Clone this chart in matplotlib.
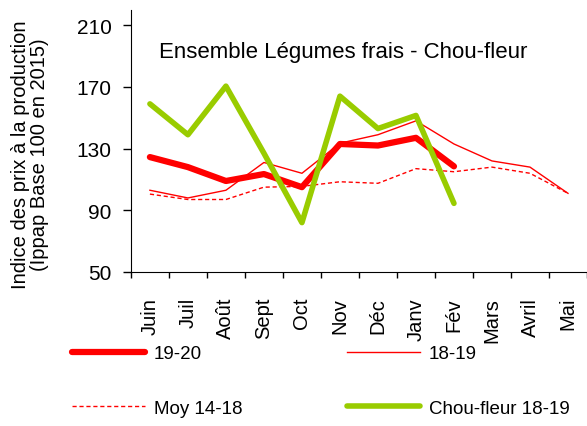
import matplotlib
matplotlib.use('Agg')
import matplotlib.pyplot as plt
import numpy as np

plt.rcParams['font.family'] = ['Liberation Sans', 'DejaVu Sans']

# ---- données ----
mois = ['Juin', 'Juil', 'Août', 'Sept', 'Oct', 'Nov', 'Déc', 'Janv', 'Fév', 'Mars', 'Avril', 'Mai']
s1920 = [124.5, 118, 109, 113.5, 105, 133, 132, 137, 118.5]
s1819 = [103, 98, 103, 121, 114, 133.5, 139, 148, 133, 122, 118, 101]
moy1418 = [100.5, 97, 97, 105, 105.5, 108.5, 107.5, 117, 115, 118, 114, 101]
chou1819 = [159, 139, 170.5, 127, 82, 164, 143, 151.5, 94.5]

rouge = '#ff0000'
vert = '#99cc00'

fig = plt.figure(figsize=(5.87, 4.27), dpi=100)
ax = fig.add_axes([0.223, 0.3607, 0.777, 0.614])

x = np.arange(len(mois))
l1, = ax.plot(x[:len(s1920)], s1920, color=rouge, lw=4.5, solid_capstyle='round', label='19-20')
l2, = ax.plot(x, s1819, color=rouge, lw=1.0, label='18-19')
l3, = ax.plot(x, moy1418, color=rouge, lw=1.0, ls=(0, (3, 2)), label='Moy 14-18')
l4, = ax.plot(x[:len(chou1819)], chou1819, color=vert, lw=4.0, solid_capstyle='round', label='Chou-fleur 18-19')

ax.set_xlim(-0.5, len(mois) - 0.5)
ax.set_ylim(50, 220)
ax.set_yticks([50, 90, 130, 170, 210])
ax.set_xticks(x)
ax.set_xticklabels(mois, rotation=90)
ax.set_xticks(np.arange(-0.5, len(mois), 1), minor=True)
ax.tick_params(axis='x', which='major', length=0, pad=18, labelsize=14.5)
ax.tick_params(axis='x', which='minor', length=4, width=1)
ax.tick_params(axis='y', length=6, width=1, pad=8, labelsize=15)

for s in ['top', 'right']:
    ax.spines[s].set_visible(False)

ax.set_ylabel('Indice des prix à la production\n(Ippap Base 100 en 2015)', fontsize=14.5, linespacing=1.0)
ax.yaxis.set_label_coords(-0.18, 0.45)
ax.text(0.465, 0.842, 'Ensemble Légumes frais - Chou-fleur', transform=ax.transAxes,
        ha='center', va='center', fontsize=16)

fig.legend(handles=[l1, l3, l2, l4], ncol=2, frameon=False,
           loc='upper left', bbox_to_anchor=(72 / 587, 1 - 346 / 427),
           borderpad=0, borderaxespad=0, handlelength=3.9, handletextpad=0.45,
           labelspacing=2.0, columnspacing=5.6, fontsize=13.5)

fig.savefig('out.png', dpi=100)
